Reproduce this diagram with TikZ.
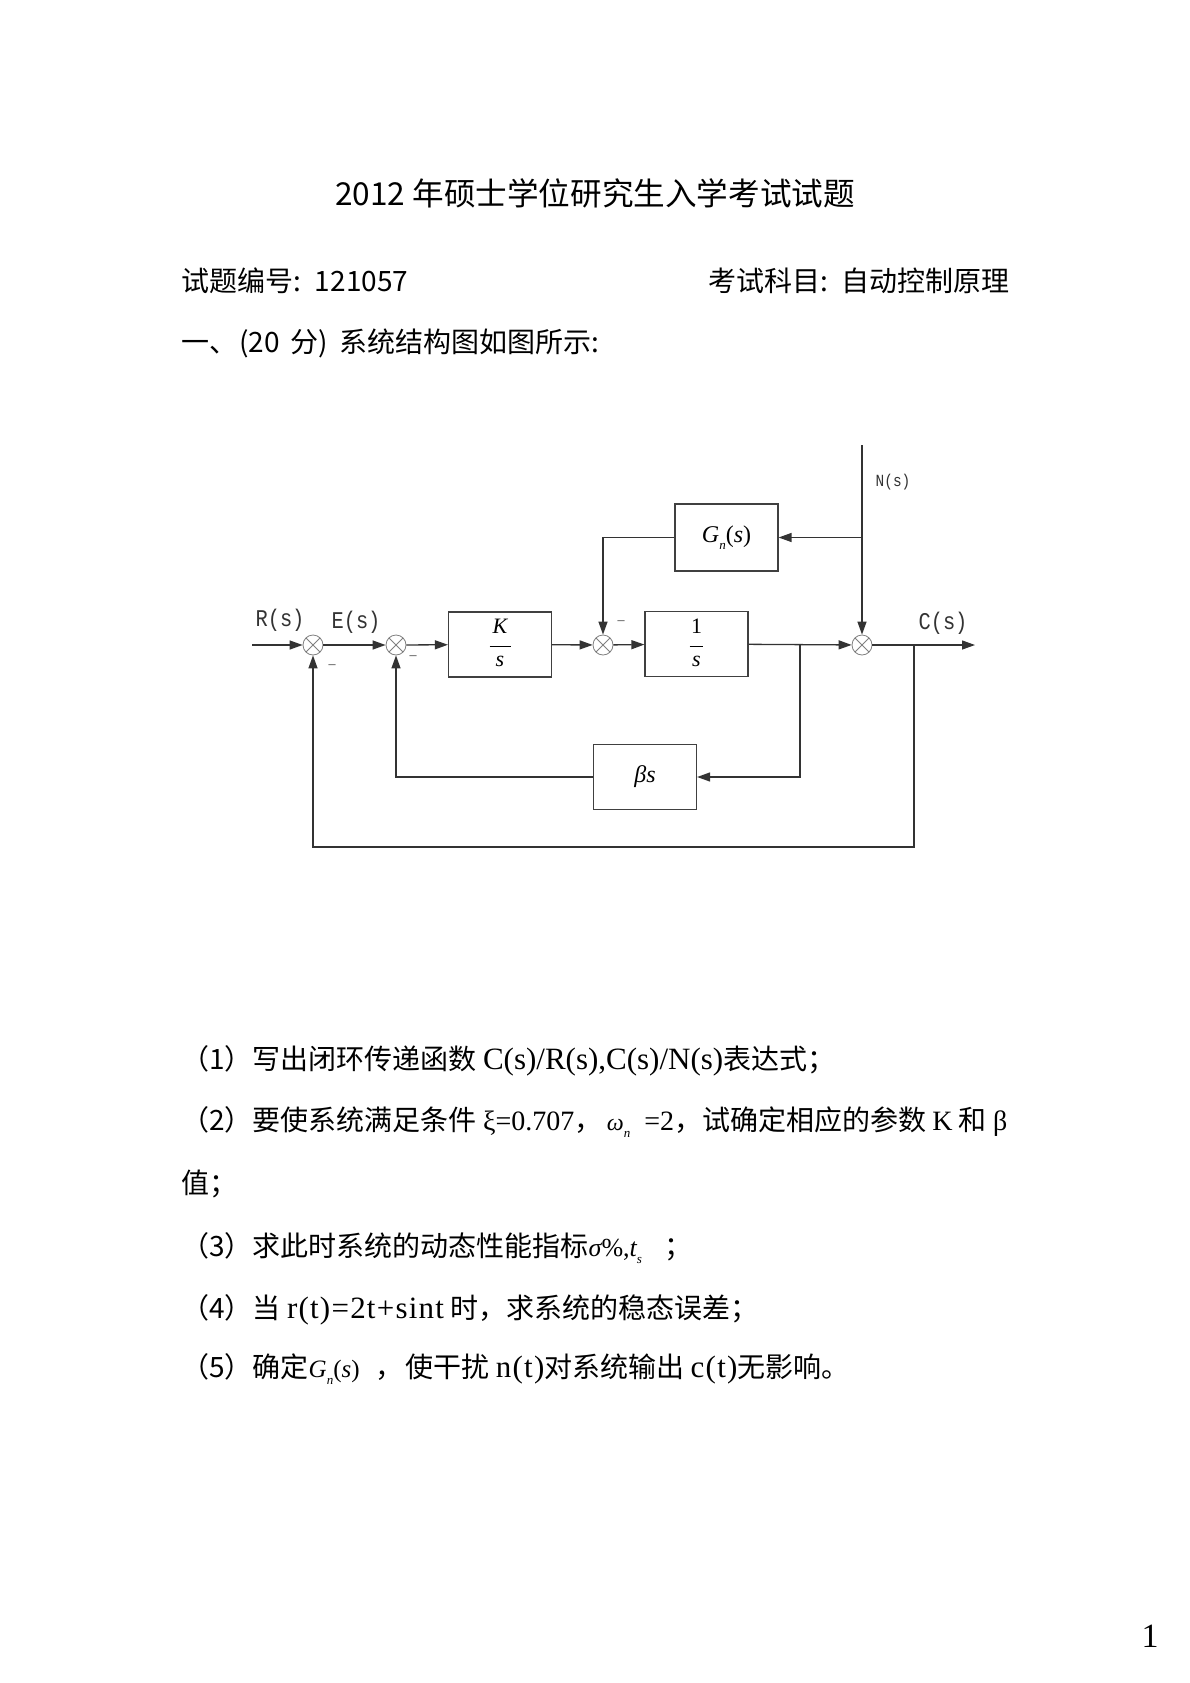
\documentclass[tikz,border=0pt]{standalone}
\usepackage{fontspec}
\setmainfont{Noto Sans CJK SC}
\newfontfamily\ser{Liberation Serif}
\newfontfamily\serc[LetterSpace=4]{Liberation Serif}
\newfontfamily\lab[FakeStretch=0.85]{Liberation Mono}
\usetikzlibrary{arrows.meta}
\newcommand{\fsz}[1]{\fontsize{#1}{#1}\selectfont}
\newcommand{\tx}[1]{{\ser #1}}
\newcommand{\tw}[1]{{\ser\fsz{31}#1}}
\newcommand{\tws}[1]{{\serc\fsz{31}#1}}
\newcommand{\msub}[1]{\raisebox{-0.3em}{\fsz{13}#1}}
\newcommand{\GnS}{{\ser\itshape G\msub{n}\upshape(\itshape s\upshape)}}
\begin{document}
\begin{tikzpicture}[x=1pt,y=-1pt,
  line/.style={draw=black!80, line width=1.3pt},
  arr/.style={line, -{Triangle[length=13pt,width=9pt]}},
  blk/.style={draw=black!75, line width=1.2pt, minimum width=103pt, minimum height=65pt, inner sep=0pt, font=\ser\itshape\fsz{24}},
  frc/.style={inner sep=0pt, font=\ser\itshape\fsz{22}},
  barline/.style={draw=black, line width=0.9pt},
  sumj/.style={circle, draw=black!50, line width=0.8pt, minimum size=20pt, inner sep=0pt,
    path picture={\draw[black!50, line width=0.8pt] (path picture bounding box.north west) -- (path picture bounding box.south east)
      (path picture bounding box.south west) -- (path picture bounding box.north east);}},
  lbl/.style={inner sep=0pt, font=\lab\fsz{24}, text=black!80},
  mns/.style={inner sep=0pt, font=\ser\fsz{14}, text=black!80},
  txt/.style={inner sep=0pt, anchor=west, font=\fsz{28}}
]
\fill[white] (0,0) rectangle (1190,1683);
\useasboundingbox (0,0) rectangle (1190,1683);

% ---- header text ----
\node[inner sep=0pt, font=\fsz{31.6}] (title) at (595,193) {2012 年硕士学位研究生入学考试试题};
\node[txt] (code) at (181,281) {试题编号:\hspace{14pt}121057};
\node[txt, anchor=east] (subj) at (1010,281) {考试科目:\hspace{14pt}自动控制原理};
\node[txt] (q0) at (181,343) {一、\hspace{2pt}(20\hspace{4pt} 分)\hspace{6pt} 系统结构图如图所示:};

% ---- diagram ----
\node[sumj] (s1) at (313,645) {};
\node[sumj] (s2) at (396,645) {};
\node[sumj] (s3) at (603,645) {};
\node[sumj] (s4) at (862,645) {};

\node[blk] (K) at (500,644.5) {};
\node[frc] (Kn) at (500,626) {K};
\draw[barline] (489.5,646) -- (510.5,646);
\node[frc] (Kd) at (500,661) {s};

\node[blk] (I) at (696.5,644) {};
\node[frc, font=\ser\fsz{22}] (In) at (696.5,626) {1};
\draw[barline] (689.5,646) -- (702.5,646);
\node[frc] (Id) at (696.5,661) {s};

\node[blk, minimum height=67pt] (G) at (726.5,537.5) {\GnS};
\node[blk] (B) at (645,777) {βs};

\coordinate (in) at (252,645);
\coordinate (out) at (975,645);
\coordinate (nt) at (862,445);
\coordinate (b1) at (800,645);
\coordinate (b2) at (914,645);
\coordinate (c2) at (914,847);

\draw[arr] (in) -- (s1);
\draw[arr] (s1) -- (s2);
\draw[arr] (s2) -- (K);
\draw[arr] (K) -- (s3);
\draw[arr] (s3) -- (I);
\draw[arr] (I) -- (s4);
\draw[arr] (s4) -- (out);
\draw[arr] (nt) -- (s4);
\draw[arr] (nt |- G.east) -- (G.east);
\draw[arr] (G.west) -| (s3);
\draw[arr] (b1) |- (B.east);
\draw[arr] (B.west) -| (s2);
\draw[arr] (b2) -- (c2) -| (s1);

\node[lbl] (Rl) at (280,620) {R(s)};
\node[lbl] (El) at (356,622) {E(s)};
\node[lbl] (Cl) at (943,623) {C(s)};
\node[lbl, font=\lab\fsz{17}] (Nl) at (893,482) {N(s)};
\node[mns] (m1) at (332,667) {–};
\node[mns] (m2) at (413,658) {–};
\node[mns] (m3) at (621,623) {–};

% ---- questions ----
\node[txt] (q1) at (181,1061) {（1）写出闭环传递函数 \tw{C(s)/R(s),C(s)/N(s)}表达式；};
\node[txt] (q2) at (181,1122) {（2）要使系统满足条件 \tx{ξ=0.707}，\,{\ser\itshape\fsz{24}ω\msub{n}}\hspace{14pt}\tx{=2}，试确定相应的参数 \tx{K} 和 \tx{β}};
\node[txt] (q2b) at (181,1184) {值；};
\node[txt] (q3) at (181,1248) {（3）求此时系统的动态性能指标{\ser\fsz{26}\itshape σ\upshape\%,\itshape t\msub{s}}\hspace{22pt}；};
\node[txt] (q4) at (181,1310) {（4）当 \tws{r(t)=2t+sint} 时，求系统的稳态误差；};
\node[txt] (q5) at (181,1369) {（5）确定{\fsz{25}\GnS}\hspace{16pt}，\hspace{2pt}使干扰 \tws{n(t)}对系统输出 \tws{c(t)}无影响。};

\node[inner sep=0pt, font=\ser\fsz{34}] (pg) at (1150,1636) {1};
\end{tikzpicture}
\end{document}
